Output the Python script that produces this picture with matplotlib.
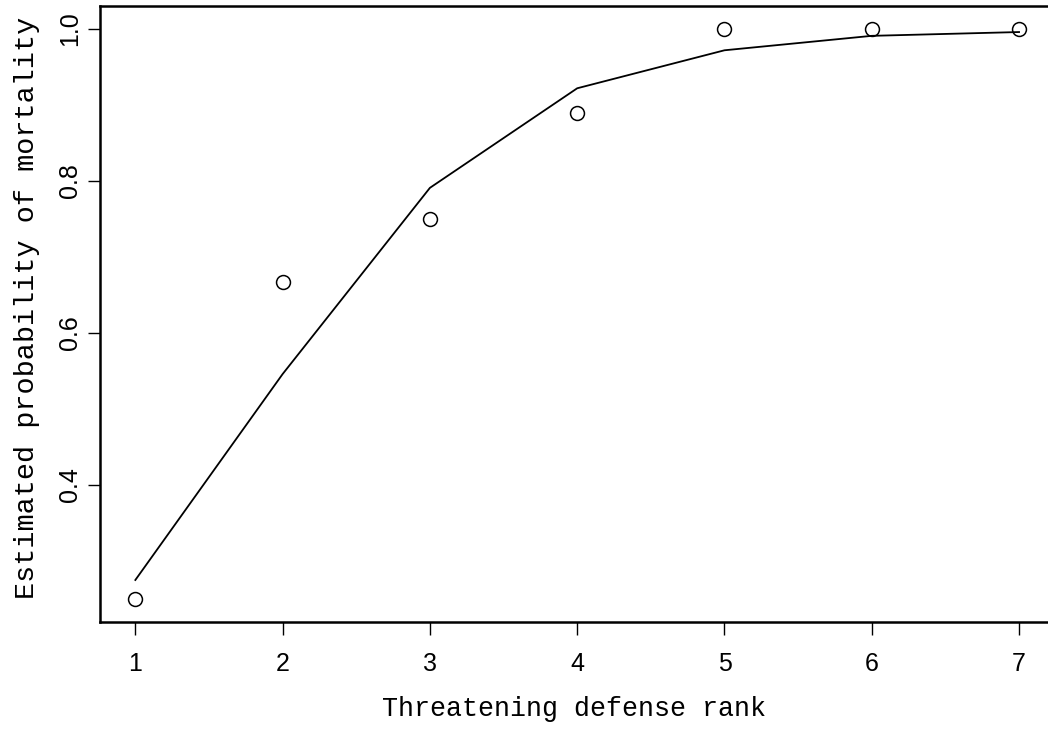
import numpy as np
import matplotlib
matplotlib.use('Agg')
import matplotlib.pyplot as plt

# observed proportions per defense rank
rank = [1, 2, 3, 4, 5, 6, 7]
observed = [0.25, 0.667, 0.75, 0.889, 1.0, 1.0, 1.0]
# fitted probability from the model
fitted = [0.275, 0.546, 0.791, 0.922, 0.972, 0.991, 0.996]

xticks = [1, 2, 3, 4, 5, 6, 7]
yticks = [0.4, 0.6, 0.8, 1.0]

fig = plt.figure(figsize=(10.48, 7.30), dpi=100)
W, H = 1048, 730
# axes box runs a little past the right edge of the figure
ax = fig.add_axes([100 / W, 108.2 / H, 954.4 / W, 615.6 / H])

ax.plot(rank, fitted, color='black', lw=1.3)
ax.plot(rank, observed, 'o', ms=10, mfc='none', mec='black', mew=1.1)

ax.set_xlim(0.76, 7.24)
ax.set_ylim(0.22, 1.03)
ax.set_xticks(xticks)
ax.set_yticks(yticks)
ax.set_xticklabels([str(v) for v in xticks], family='Liberation Sans', fontsize=18)
ax.set_yticklabels(['%.1f' % v for v in yticks], family='Liberation Sans', fontsize=18,
                   rotation=90, va='center')

for s in ax.spines.values():
    s.set_linewidth(1.8)
ax.tick_params(axis='both', direction='out', length=9, width=1.0, color='black')
ax.tick_params(axis='x', pad=13)
ax.tick_params(axis='y', pad=4)

ax.set_xlabel('Threatening defense rank', family='Liberation Mono', fontsize=19.2)
ax.set_ylabel('Estimated probability of mortality', family='Liberation Mono', fontsize=20.5)
ax.xaxis.set_label_coords(0.497, -0.12)
ax.yaxis.set_label_coords(-0.063, 0.51)

fig.savefig('out.png', dpi=100)
